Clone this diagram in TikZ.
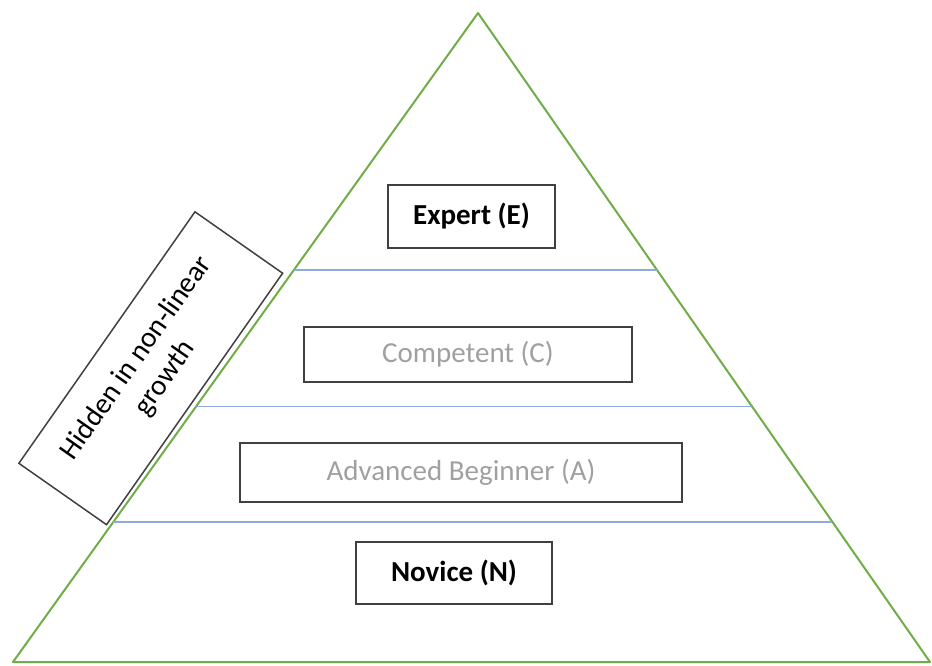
\documentclass[tikz,border=0pt]{standalone}
\usepackage{fontspec}
\setmainfont{Carlito}
\usetikzlibrary{calc}
\definecolor{pyrgreen}{RGB}{112,173,71}
\definecolor{pyrblue}{RGB}{143,170,220}
\definecolor{boxgray}{RGB}{64,64,64}
\definecolor{textgray}{RGB}{160,160,160}
\newcommand{\lvlfont}{\fontsize{29}{35}\selectfont}
\tikzset{
  levelbox/.style = {draw=boxgray, line width=1.5pt, inner sep=0pt,
                     font=\lvlfont},
  boldbox/.style  = {levelbox, font=\lvlfont\bfseries},
  greybox/.style  = {levelbox, text=textgray},
  pyrline/.style  = {draw=pyrblue, line width=1.5pt}
}

\begin{document}
\begin{tikzpicture}[x=1pt,y=-1pt]
  \useasboundingbox (0,0) rectangle (932,665);
  \coordinate (apex) at (478,13);
  \coordinate (bl) at (13,662);
  \coordinate (br) at (930,662);
  \draw[pyrgreen, line width=2pt, line join=round] (apex) -- (bl) -- (br) -- cycle;
  \foreach \f in {0.396,0.606,0.784}
    \draw[pyrline] ($(apex)!\f!(bl)$) -- ($(apex)!\f!(br)$);
  \node[boldbox, minimum width=167, minimum height=63] (E) at (471.5,216.5) {Expert (E)};
  \node[greybox, minimum width=328, minimum height=55] (C) at (468,354.5) {Competent (C)};
  \node[greybox, minimum width=442, minimum height=59] (A) at (461,472.5) {Advanced Beginner (A)};
  \node[boldbox, minimum width=196, minimum height=62] (N) at (454,573) {Novice (N)};
  \node[levelbox, rotate=55, align=center, minimum width=307, minimum height=107]
    (H) at (150.75,368.25) {Hidden in non-linear\\growth};
\end{tikzpicture}
\end{document}
